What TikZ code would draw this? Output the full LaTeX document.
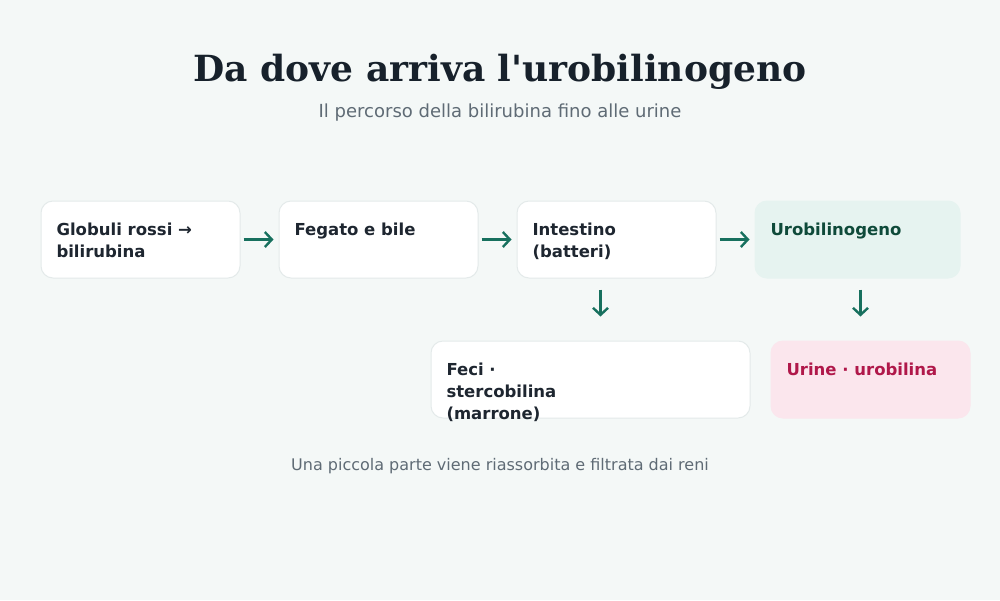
\documentclass[tikz,border=0pt]{standalone}
\usepackage{fontspec}
\setmainfont{DejaVu Sans}
\newfontfamily\titlefont{DejaVu Serif}
\usetikzlibrary{arrows.meta}

\definecolor{bg}{HTML}{F4F8F7}
\definecolor{titleink}{HTML}{17212B}
\definecolor{subink}{HTML}{5F6B75}
\definecolor{ink}{HTML}{1E2630}
\definecolor{boxline}{HTML}{E4EAEA}
\definecolor{greenfill}{HTML}{E6F3F0}
\definecolor{greenink}{HTML}{0F4A3A}
\definecolor{pinkfill}{HTML}{FBE6ED}
\definecolor{pinkink}{HTML}{B0184A}
\definecolor{arrowc}{HTML}{17705E}

% text of a box, top left
\newcommand{\steptext}[2]{\parbox[c][77pt][t]{#1}{\vspace*{18.6pt}\strut#2}}

\begin{document}
\begin{tikzpicture}[x=1pt,y=-1pt,
  stepbox/.style={draw=boxline, line width=1pt, rounded corners=12pt, fill=white,
    inner xsep=15.5pt, inner ysep=0pt, anchor=north west, text=ink,
    font=\fontsize{16.5}{22}\selectfont\bfseries},
  flow/.style={draw=arrowc, line width=2.4pt, -{Straight Barb[length=7pt,width=15pt]},
    shorten <=3pt, shorten >=5pt}]
\fill[bg] (0,0) rectangle (1000,600);

\node[anchor=base, text=titleink, font=\titlefont\bfseries\fontsize{36}{42}\selectfont] (title) at (500,81) {Da dove arriva l'urobilinogeno};
\node[anchor=base, text=subink, font=\fontsize{18}{21}\selectfont] (subtitle) at (500,117) {Il percorso della bilirubina fino alle urine};

% first row
\node[stepbox] (globuli) at (40.5,200.5) {\steptext{168pt}{Globuli rossi →\\bilirubina}};
\node[stepbox] (fegato) at (278.5,200.5) {\steptext{168pt}{Fegato e bile}};
\node[stepbox] (intestino) at (516.5,200.5) {\steptext{168pt}{Intestino\\(batteri)}};
\node[stepbox, fill=greenfill, draw=greenfill, text=greenink] (uro) at (754.5,200.5) {\steptext{174pt}{Urobilinogeno}};

% second row
\node[stepbox] (feci) at (430.5,340.5) {\steptext{288pt}{Feci ·\\stercobilina\\(marrone)}};
\node[stepbox, fill=pinkfill, draw=pinkfill, text=pinkink] (urine) at (770.5,340.5) {\steptext{168pt}{Urine · urobilina}};

\draw[flow] (globuli) -- (fegato);
\draw[flow] (fegato) -- (intestino);
\draw[flow] (intestino) -- (uro);
\draw[flow, shorten <=0pt, shorten >=0pt] ([xshift=-16pt,yshift=-11pt]intestino.south) -- ([xshift=10pt,yshift=24pt]feci.north);
\draw[flow, shorten <=0pt, shorten >=0pt] ([xshift=3pt,yshift=-11pt]uro.south) -- ([xshift=-10pt,yshift=24pt]urine.north);

\node[anchor=base, text=subink, font=\fontsize{16}{19}\selectfont] (note) at (500,470) {Una piccola parte viene riassorbita e filtrata dai reni};
\end{tikzpicture}
\end{document}
